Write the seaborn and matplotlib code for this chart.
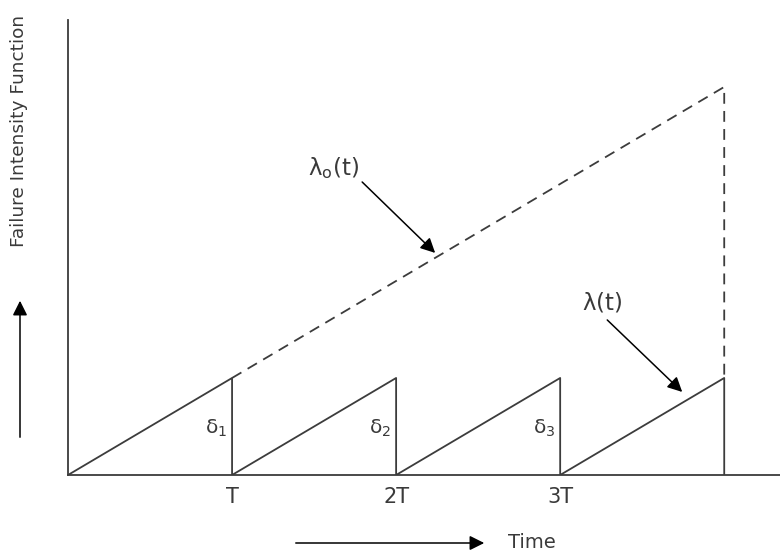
import matplotlib
matplotlib.use("Agg")
import matplotlib.pyplot as plt
import numpy as np
import pandas as pd
import seaborn as sns

# cycle boundaries in units of T
cycle_starts = [0, 1, 2, 3]
cycle_ends = [1, 2, 3, 4]
peak_value = 1.0
tick_positions = [1, 2, 3]
tick_labels = ["T", "2T", "3T"]
delta_labels = [r"$\mathrm{\delta_1}$", r"$\mathrm{\delta_2}$", r"$\mathrm{\delta_3}$"]
# uncorrected intensity lambda0(t) grows linearly through the cycles
lambda0_x = [1, 4, 4]
lambda0_y = [1, 4, 1]

LINE = "#3c3c3c"
TEXT = "#3a3a3a"

sns.set_style("white")
plt.rcParams["font.family"] = ["DejaVu Sans"]

saw_x, saw_y = [], []
for s, e in zip(cycle_starts, cycle_ends):
    saw_x += [s, e, e]
    saw_y += [0, peak_value, 0]
saw = pd.DataFrame({"t": saw_x, "lam": saw_y})
dashed = pd.DataFrame({"t": lambda0_x, "lam": lambda0_y})

fig = plt.figure(figsize=(7.8, 5.52), dpi=100)
ax = fig.add_axes([0.0872, 0.1395, 0.9128, 0.8243])

sns.lineplot(data=saw, x="t", y="lam", sort=False, estimator=None, color=LINE, lw=1.3, ax=ax)
sns.lineplot(data=dashed, x="t", y="lam", sort=False, estimator=None, color=LINE, lw=1.3,
             linestyle=(0, (6, 4)), ax=ax)

ax.set_xlim(0, 4.34)
ax.set_ylim(0, 4.69)
ax.set_xlabel("")
ax.set_ylabel("")
ax.set_yticks([])
ax.set_xticks(tick_positions)
ax.set_xticklabels(tick_labels, fontsize=15, color=TEXT)
ax.tick_params(axis="x", length=0, pad=9)
for side in ["top", "right"]:
    ax.spines[side].set_visible(False)
for side in ["left", "bottom"]:
    ax.spines[side].set_color(LINE)
    ax.spines[side].set_linewidth(1.3)

# delta labels left of each drop
for x, lab in zip(tick_positions, delta_labels):
    ax.text(x - 0.03, 0.48, lab, ha="right", va="center", fontsize=14.5, color=TEXT)

# curve labels with arrows
arrow_style = dict(arrowstyle="-|>", color="black", lw=1.1, mutation_scale=22,
                   shrinkA=0, shrinkB=0)
ax.text(1.616, 3.165, r"$\mathrm{\lambda_o(t)}$", fontsize=16.5, color=TEXT,
        ha="center", va="center")
ax.annotate("", xy=(2.238, 2.289), xytext=(1.793, 3.02), arrowprops=arrow_style)
ax.text(3.256, 1.78, r"$\mathrm{\lambda(t)}$", fontsize=16.5, color=TEXT,
        ha="center", va="center")
ax.annotate("", xy=(3.744, 0.856), xytext=(3.287, 1.598), arrowprops=arrow_style)

# axis captions with arrows
fig.text(19 / 780, 1 - 131 / 552, "Failure Intensity Function", rotation=90,
         ha="center", va="center", fontsize=13.3, color=TEXT)
fig.add_artist(matplotlib.patches.FancyArrowPatch(
    (20 / 780, 1 - 440 / 552), (20 / 780, 1 - 298 / 552), transform=fig.transFigure,
    arrowstyle="-|>", mutation_scale=22, color="black", lw=1.1))
fig.text(508 / 780, 1 - 542 / 552, "Time", ha="left", va="center", fontsize=14, color=TEXT)
fig.add_artist(matplotlib.patches.FancyArrowPatch(
    (293 / 780, 1 - 543 / 552), (487 / 780, 1 - 543 / 552), transform=fig.transFigure,
    arrowstyle="-|>", mutation_scale=22, color="black", lw=1.1))

fig.savefig("out.png", dpi=100)
plt.close(fig)
